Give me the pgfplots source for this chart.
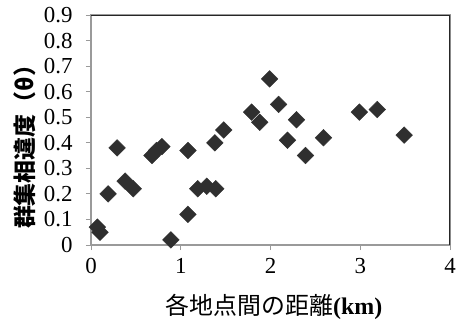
\documentclass[border=0pt]{standalone}
\usepackage{pgfplots}
\pgfplotsset{compat=1.18}
\usepackage{fontspec}
\setmainfont{Liberation Serif}
\newfontfamily\jp{Noto Sans CJK JP}
\definecolor{mk}{HTML}{2F2F2F}
\definecolor{ax}{HTML}{9A9A9A}
\begin{document}
\begin{tikzpicture}
\begin{axis}[
  scale only axis, width=359bp, height=230bp,
  at={(0,0)}, anchor=south west,
  xmin=0, xmax=4, ymin=0, ymax=0.9,
  xtick={0,1,2,3,4},
  ytick={0,0.1,0.2,0.3,0.4,0.5,0.6,0.7,0.8,0.9},
  yticklabels={0,0.1,0.2,0.3,0.4,0.5,0.6,0.7,0.8,0.9},
  xtick pos=bottom, ytick pos=left,
  tick align=outside, major tick length=5bp,
  tick style={ax, line width=1pt},
  axis line style={ax, line width=1.2pt},
  /pgf/number format/assume math mode=true,
  ticklabel style={font=\fontsize{23}{26}\selectfont},
  yticklabel style={xshift=-10bp},
  xticklabel style={yshift=-5bp},
  xlabel={{\jp 各地点間の距離}\textbf{(km)}},
  ylabel={{\jp\bfseries 群集相違度（θ）}},
  xlabel style={font=\fontsize{24}{27}\selectfont, at={(axis description cs:0.51,-0.27)}, anchor=center},
  ylabel style={font=\fontsize{23}{26}\selectfont, at={(axis description cs:-0.185,0.45)}, anchor=center},
]
\addplot[only marks, mark=square*, mark size=5.9bp, mark options={fill=mk, draw=mk, rotate=45}]
coordinates {
(0.07,0.07) (0.1,0.05) (0.19,0.2) (0.29,0.38) (0.38,0.25) (0.47,0.22)
(0.68,0.35) (0.73,0.37) (0.79,0.385) (0.89,0.02) (1.08,0.37) (1.08,0.12)
(1.19,0.22) (1.29,0.23) (1.39,0.22) (1.38,0.40) (1.48,0.45) (1.79,0.52)
(1.88,0.48) (1.99,0.65) (2.09,0.55) (2.19,0.41) (2.29,0.49) (2.39,0.35)
(2.59,0.42) (2.99,0.52) (3.19,0.53) (3.49,0.43)
};
\draw[black!85, line width=1.2pt] (rel axis cs:0,1) -- (rel axis cs:1,1) -- (rel axis cs:1,0);
\end{axis}
\pgfresetboundingbox
\path[use as bounding box] (-91bp,-77bp) rectangle (365bp,245bp);
\end{tikzpicture}
\end{document}
